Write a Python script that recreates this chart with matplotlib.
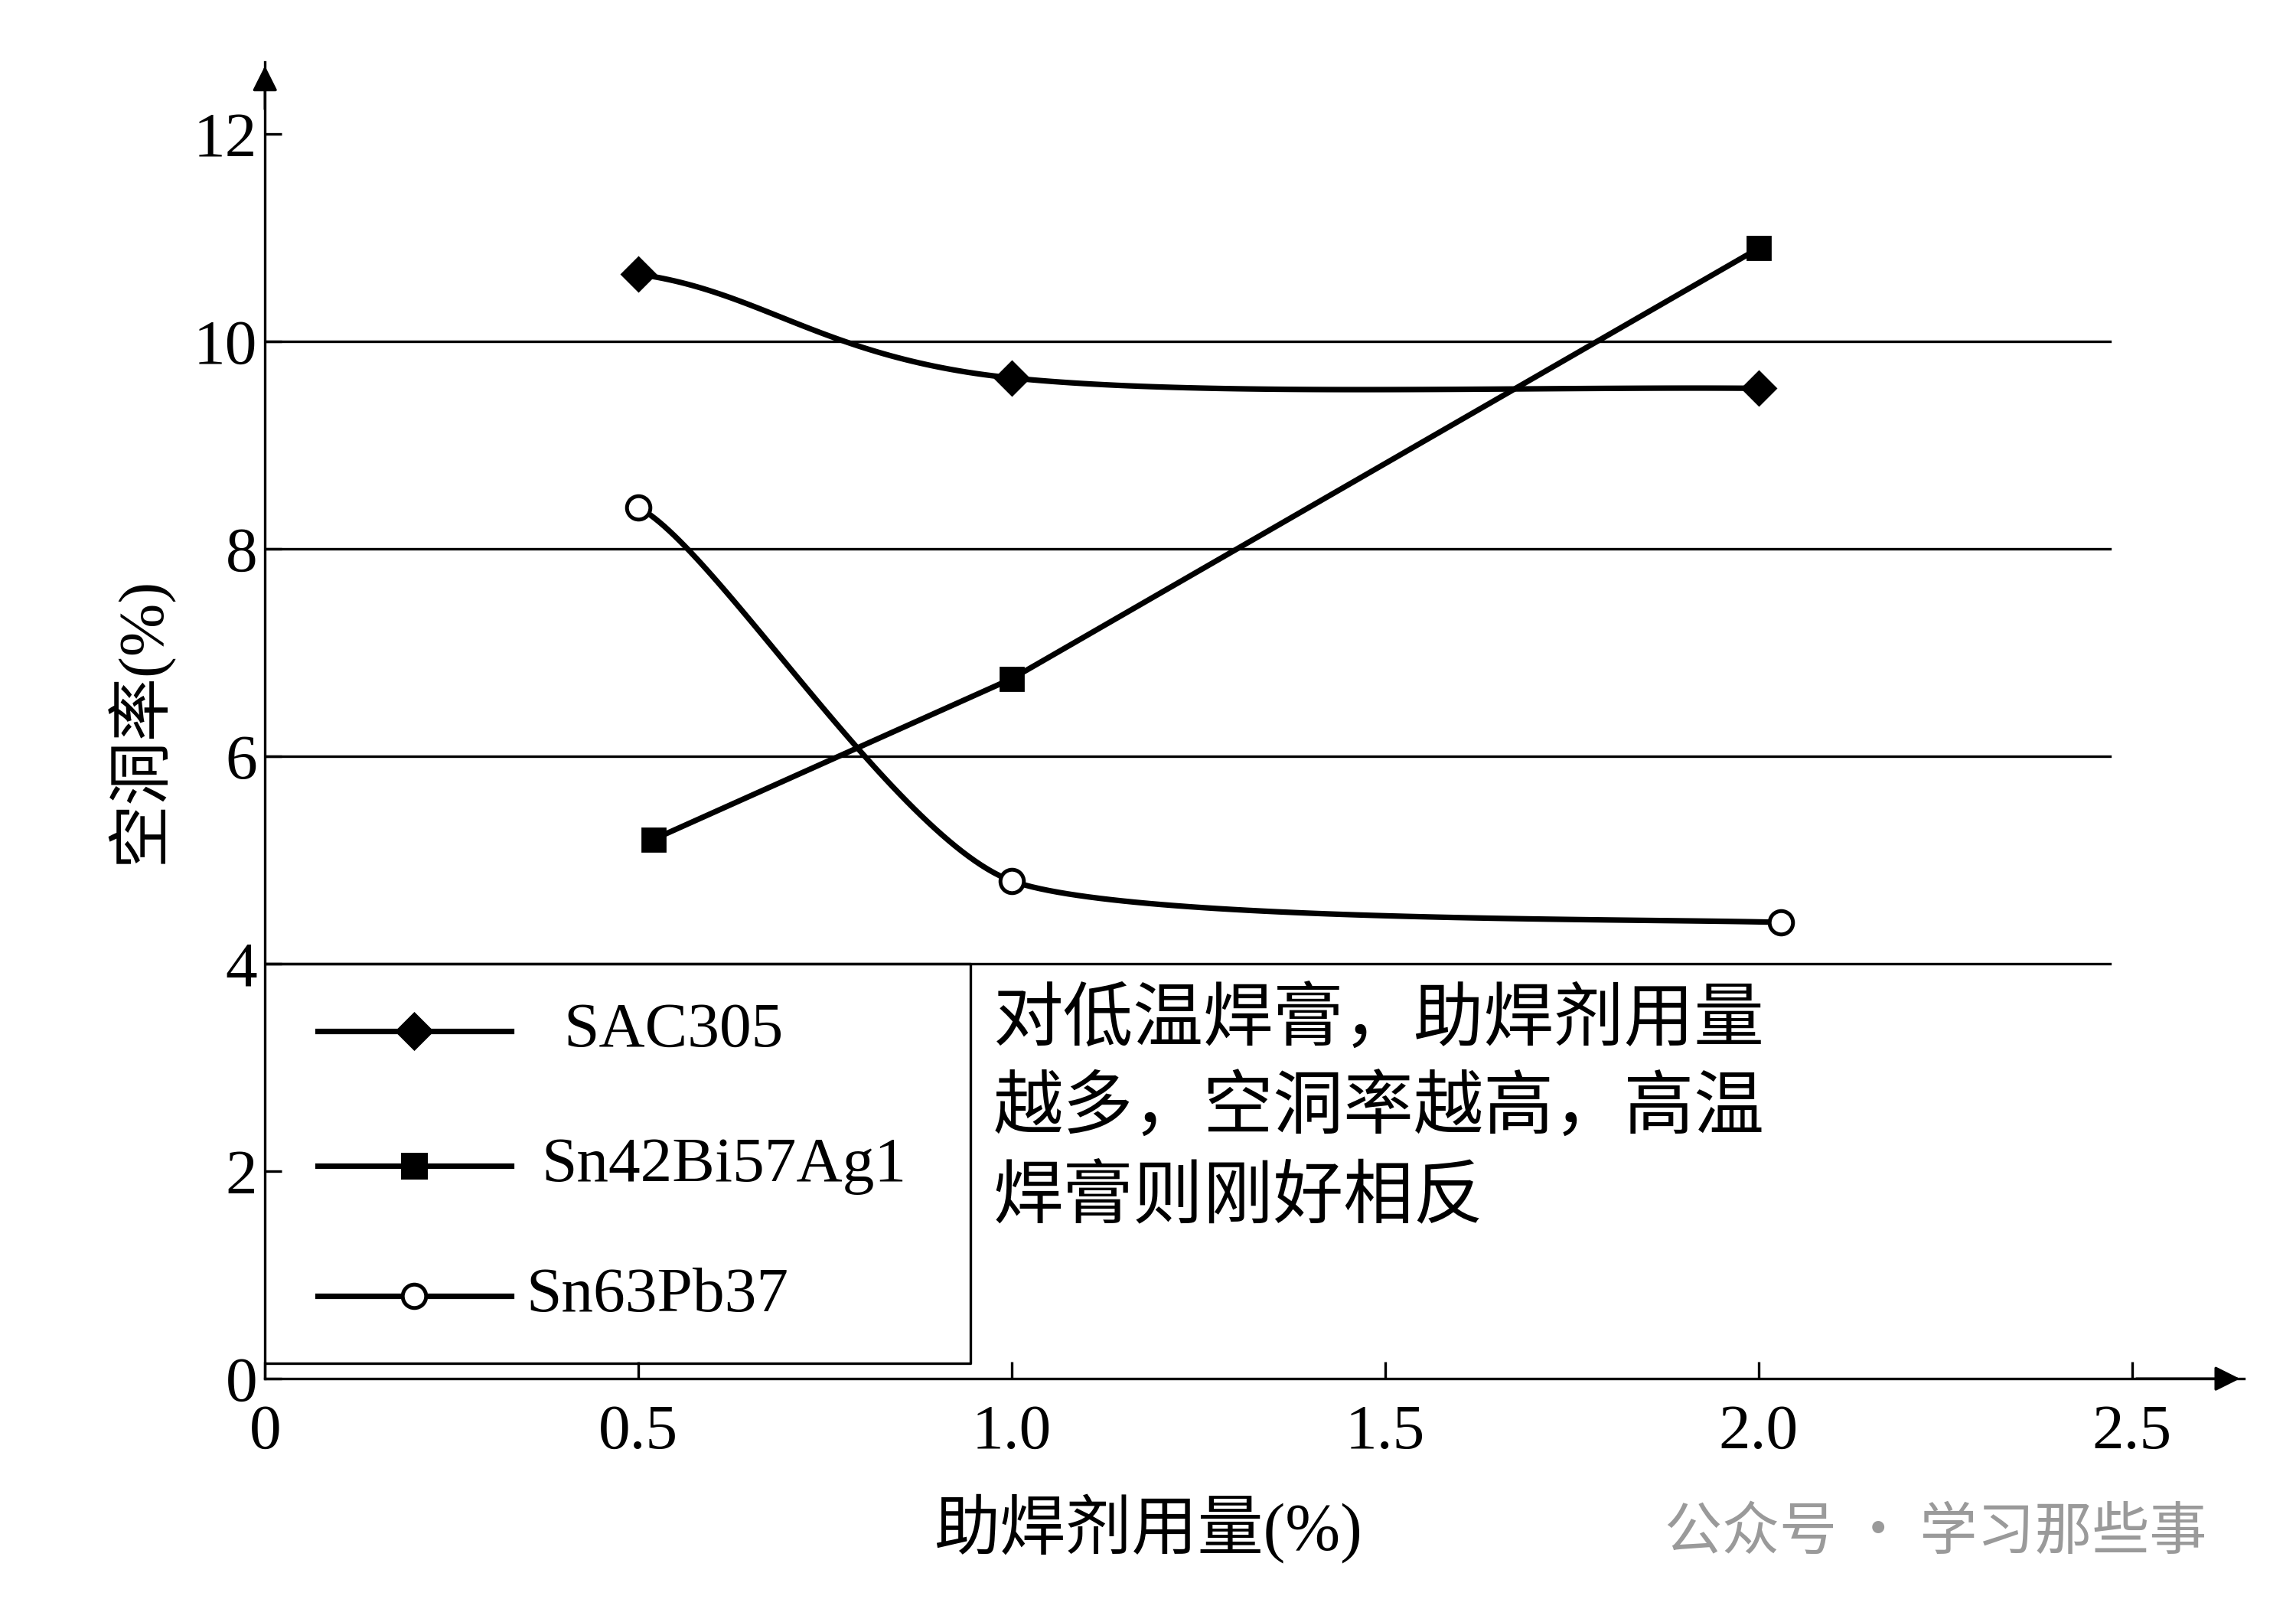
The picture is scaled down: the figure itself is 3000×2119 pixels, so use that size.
import numpy as np
import matplotlib.pyplot as plt

plt.rcParams['font.family'] = ['Liberation Serif', 'Noto Sans CJK SC']

# data
sac_x = [0.5, 1.0, 2.0]
sac_y = [10.65, 9.65, 9.55]
snbi_x = [0.52, 1.0, 2.0]
snbi_y = [5.2, 6.75, 10.9]
snpb_x = [0.5, 1.0, 2.03]
snpb_y = [8.4, 4.8, 4.4]

xticks = [0, 0.5, 1.0, 1.5, 2.0, 2.5]
xticklabels = ['0', '0.5', '1.0', '1.5', '2.0', '2.5']
yticks = [0, 2, 4, 6, 8, 10, 12]
grid_y = [4, 6, 8, 10]


def smooth(xs, ys, n=60, tension=0.5):
    # Catmull-Rom style curve through the points, only for the drawn line
    xs = np.asarray(xs, float); ys = np.asarray(ys, float)
    px = np.concatenate([[2 * xs[0] - xs[1]], xs, [2 * xs[-1] - xs[-2]]])
    py = np.concatenate([[ys[0]], ys, [ys[-1]]])
    ox, oy = [], []
    t = np.linspace(0, 1, n)
    for i in range(1, len(px) - 2):
        m1x = tension * (px[i + 1] - px[i - 1]); m1y = tension * (py[i + 1] - py[i - 1])
        m2x = tension * (px[i + 2] - px[i]); m2y = tension * (py[i + 2] - py[i])
        h00 = 2 * t**3 - 3 * t**2 + 1; h10 = t**3 - 2 * t**2 + t
        h01 = -2 * t**3 + 3 * t**2; h11 = t**3 - t**2
        ox.append(h00 * px[i] + h10 * m1x + h01 * px[i + 1] + h11 * m2x)
        oy.append(h00 * py[i] + h10 * m1y + h01 * py[i + 1] + h11 * m2y)
    return np.concatenate(ox), np.concatenate(oy)


fig = plt.figure(figsize=(15, 10.595), dpi=200)
ax = fig.add_axes([0.1154, 0.15, 0.862, 0.812])
ax.set_xlim(0, 2.65)
ax.set_ylim(0, 12.7)

for g in grid_y:
    ax.plot([0, 2.47], [g, g], color='black', lw=1.2, zorder=1)

lw = 2.6
x, y = smooth(sac_x, sac_y)
ax.plot(x, y, color='black', lw=lw, zorder=2)
ax.plot(sac_x, sac_y, 'D', color='black', ms=11, zorder=3)
ax.plot(snbi_x, snbi_y, color='black', lw=lw, zorder=2)
ax.plot(snbi_x, snbi_y, 's', color='black', ms=11, zorder=3)
x, y = smooth(snpb_x, snpb_y, tension=0.3)
ax.plot(x, y, color='black', lw=lw, zorder=2)
ax.plot(snpb_x, snpb_y, 'o', color='black', mfc='white', mew=1.8, ms=11, zorder=3)

# legend box
ax.plot([0, 0.945, 0.945, 0], [4, 4, 0.15, 0.15], color='black', lw=1.2)
leg = [('D', 'SAC305', 'black', 3.35, 0.4), ('s', 'Sn42Bi57Ag1', 'black', 2.05, 0.37),
       ('o', 'Sn63Pb37', 'white', 0.8, 0.35)]
for m, lab, fc, yy, tx in leg:
    ax.plot([0.07, 0.33], [yy, yy], color='black', lw=lw)
    ax.plot([0.2], [yy], m, color='black', mfc=fc, mew=1.8, ms=11)
    ax.text(tx, yy, lab, fontsize=30, va='center')

ax.text(0.975, 3.8, '对低温焊膏，助焊剂用量\n越多，空洞率越高，高温\n焊膏则刚好相反',
        fontsize=33, va='top', linespacing=1.3, family=['Noto Sans CJK SC'])

for s in ['top', 'right']:
    ax.spines[s].set_visible(False)
ax.spines['left'].set_linewidth(1.2)
ax.spines['bottom'].set_linewidth(1.2)
ax.annotate('', xy=(2.65, 0), xytext=(2.5, 0),
            arrowprops=dict(arrowstyle='-|>', color='black', lw=1.2, mutation_scale=25))
ax.annotate('', xy=(0, 12.7), xytext=(0, 12.2),
            arrowprops=dict(arrowstyle='-|>', color='black', lw=1.2, mutation_scale=25))

ax.set_xticks(xticks)
ax.set_xticklabels(xticklabels)
ax.set_yticks(yticks)
ax.tick_params(axis='both', direction='in', labelsize=30, length=8, width=1.2)
ax.tick_params(axis='x', pad=12)
ax.set_ylabel('空洞率(%)', fontsize=30, labelpad=10)

fig.text(0.5, 0.045, '助焊剂用量(%)', fontsize=31, ha='center')
fig.text(0.725, 0.045, '公众号 · 学习那些事', fontsize=27, color='#9a9a9a',
         family=['Noto Sans CJK SC'])

fig.savefig('out.png')
